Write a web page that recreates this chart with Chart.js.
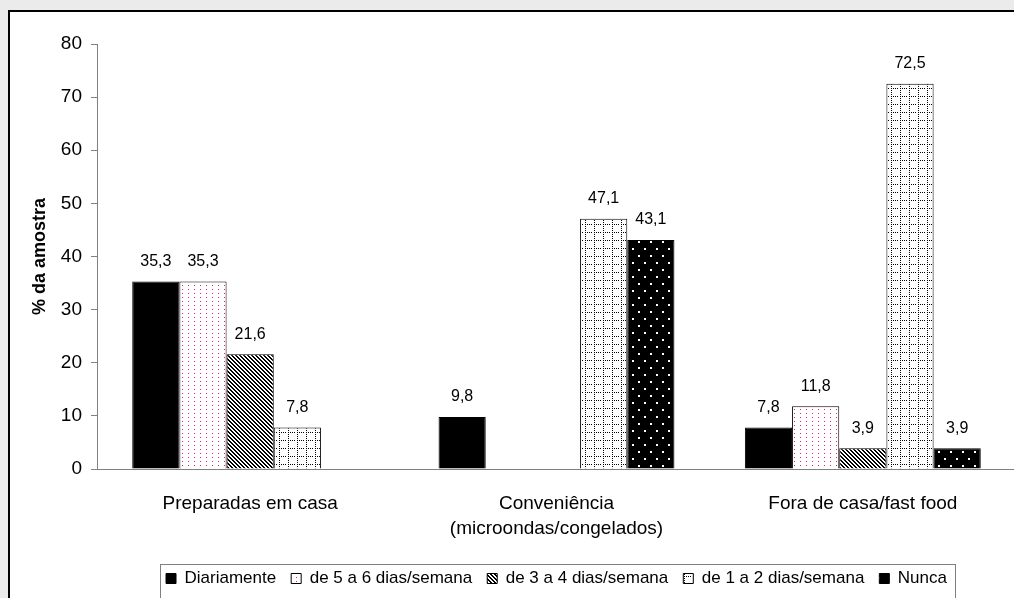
<!DOCTYPE html>
<html>
<head>
<meta charset="utf-8">
<script src="https://cdn.jsdelivr.net/npm/chart.js@4/dist/chart.umd.min.js"></script>
<style>
  html, body { margin: 0; padding: 0; width: 1014px; height: 598px; overflow: hidden; background: #ebebeb; }
  #frame { position: absolute; left: 8px; top: 10px; width: 1040px; height: 640px; border: 2px solid #000; background: #fff; }
  #chart { position: absolute; left: 0; top: 0; }
</style>
</head>
<body>
<div id="frame"></div>
<canvas id="chart" width="1030" height="598"></canvas>
<script>
// Meal types (x categories)
const categories = ['Preparadas em casa', ['Conveniência', '(microondas/congelados)'], 'Fora de casa/fast food'];

// Frequency series, % of sample (null = no bar)
const diariamente   = [35.3, 9.8, 7.8];
const cincoASeis    = [35.3, null, 11.8];
const tresAQuatro   = [21.6, null, 3.9];
const umADois       = [7.8, 47.1, 72.5];
const nunca         = [null, 43.1, 3.9];

const seriesNames = ['Diariamente', 'de 5 a 6 dias/semana', 'de 3 a 4 dias/semana', 'de 1 a 2 dias/semana', 'Nunca'];
const yTicks = [0, 10, 20, 30, 40, 50, 60, 70, 80];

const FONT = '"Liberation Sans", Arial, sans-serif';

function makePattern(w, h, draw) {
  const c = document.createElement('canvas');
  c.width = w; c.height = h;
  const g = c.getContext('2d');
  draw(g, w, h);
  return g.createPattern(c, 'repeat');
}

// small pink dots on white
const pinkDots = makePattern(6, 4, (g, w, h) => {
  g.fillStyle = '#fff'; g.fillRect(0, 0, w, h);
  g.fillStyle = '#e0207a'; g.fillRect(2, 1, 1, 1);
});
// dense black diagonal stripes
const diagStripes = makePattern(4, 4, (g, w, h) => {
  g.fillStyle = '#fff'; g.fillRect(0, 0, w, h);
  g.fillStyle = '#000';
  for (let y = 0; y < h; y++) for (let x = 0; x < w; x++) {
    if (((x - y) % 4 + 4) % 4 < 2) g.fillRect(x, y, 1, 1);
  }
});
// dotted grid on white
const dottedGrid = makePattern(9, 8, (g, w, h) => {
  g.fillStyle = '#fff'; g.fillRect(0, 0, w, h);
  g.fillStyle = '#000';
  for (let y = 0; y < h; y += 2) g.fillRect(0, y, 1, 1);
  for (let x = 0; x < w - 1; x += 2) g.fillRect(x, 0, 1, 1);
});
// white squares on black
const whiteSquares = makePattern(12, 14, (g, w, h) => {
  g.fillStyle = '#000'; g.fillRect(0, 0, w, h);
  g.fillStyle = '#fff';
  g.fillRect(2, 3, 2, 2);
  g.fillRect(8, 10, 2, 2);
});

const fills = ['#000', pinkDots, diagStripes, dottedGrid, whiteSquares];
const values = [diariamente, cincoASeis, tresAQuatro, umADois, nunca];

const datasets = seriesNames.map((name, i) => ({
  label: name,
  data: values[i],
  backgroundColor: fills[i],
  borderColor: '#000',
  borderWidth: 1,
  categoryPercentage: 0.77,
  barPercentage: 1.0
}));

// value labels above each bar
const valueLabels = {
  id: 'valueLabels',
  afterDatasetsDraw(chart) {
    const ctx = chart.ctx;
    ctx.save();
    ctx.font = '16px ' + FONT;
    ctx.fillStyle = '#000';
    ctx.textAlign = 'center';
    ctx.textBaseline = 'middle';
    chart.data.datasets.forEach((ds, i) => {
      const meta = chart.getDatasetMeta(i);
      meta.data.forEach((bar, j) => {
        const v = ds.data[j];
        if (v === null || v === undefined) return;
        ctx.fillText(String(v).replace('.', ','), bar.x, bar.y - 20);
      });
    });
    ctx.restore();
  }
};

// box around the legend
const legendBox = {
  id: 'legendBox',
  afterDraw(chart) {
    const lg = chart.legend;
    if (!lg || !lg.legendHitBoxes || !lg.legendHitBoxes.length) return;
    const hb = lg.legendHitBoxes;
    const left = Math.min(...hb.map(b => b.left)) - 6;
    const right = Math.max(...hb.map(b => b.left + b.width)) + 8;
    const ctx = chart.ctx;
    ctx.save();
    ctx.strokeStyle = '#808080';
    ctx.lineWidth = 1;
    ctx.strokeRect(Math.round(left) + 0.5, 564.5, Math.round(right - left), 60);
    ctx.restore();
  }
};

new Chart(document.getElementById('chart'), {
  type: 'bar',
  data: { labels: categories, datasets },
  options: {
    responsive: false,
    animation: false,
    devicePixelRatio: 1,
    layout: { padding: { left: 0, right: 14, top: 44, bottom: 1 } },
    plugins: {
      tooltip: { enabled: false },
      legend: {
        position: 'bottom',
        fullSize: false,
        labels: {
          boxWidth: 10,
          boxHeight: 10,
          padding: 15,
          color: '#000',
          font: { family: FONT, size: 17 }
        }
      }
    },
    scales: {
      x: {
        grid: { display: false },
        border: { display: true, color: '#808080', width: 1 },
        ticks: {
          color: '#000',
          padding: 15,
          maxRotation: 0,
          autoSkip: false,
          font: { family: FONT, size: 19, lineHeight: 1.28 }
        },
        afterFit(scale) { scale.height = 86; }
      },
      y: {
        min: 0,
        max: 80,
        afterBuildTicks(scale) { scale.ticks = yTicks.map(v => ({ value: v })); },
        grid: { drawOnChartArea: false, drawTicks: true, tickLength: 6, color: '#808080' },
        border: { display: true, color: '#808080', width: 1 },
        ticks: {
          color: '#000',
          padding: 9,
          font: { family: FONT, size: 19 }
        },
        title: {
          display: true,
          text: '% da amostra',
          color: '#000',
          padding: { top: 29, bottom: 0 },
          font: { family: FONT, size: 18, weight: 'bold' }
        },
        afterFit(scale) { scale.width = 97; }
      }
    }
  },
  plugins: [valueLabels, legendBox]
});
</script>
</body>
</html>
